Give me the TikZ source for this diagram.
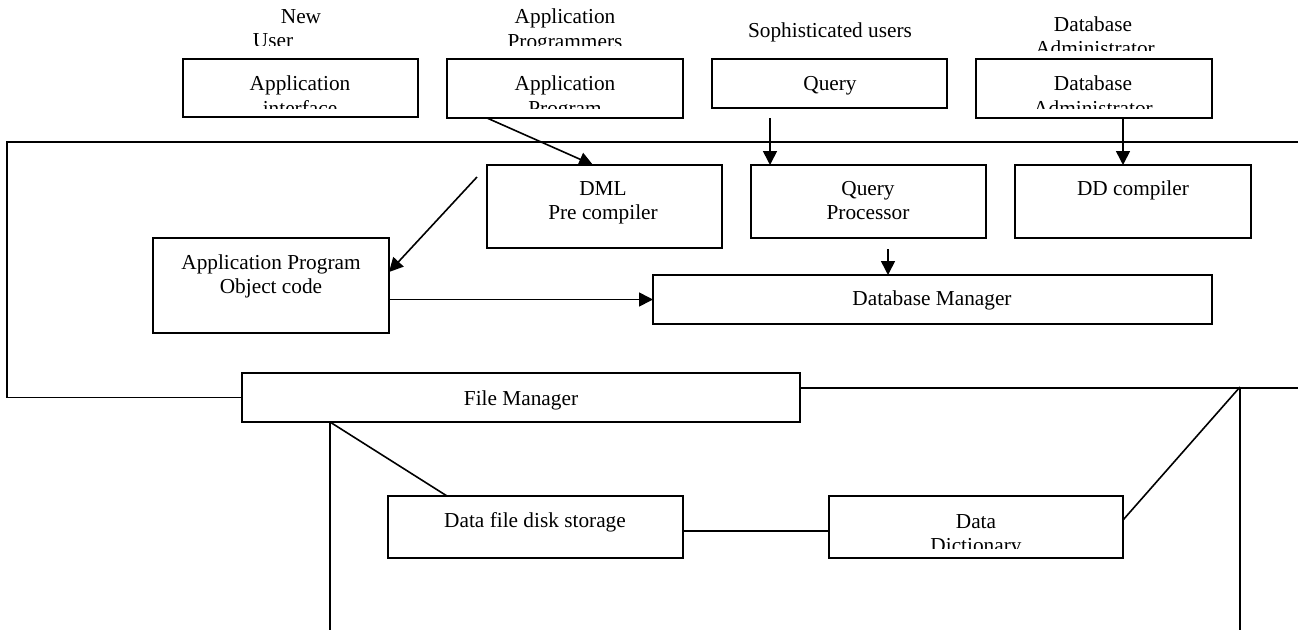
\documentclass[tikz,border=0pt]{standalone}
\usepackage{fontspec}
\setmainfont{Liberation Serif}
\usetikzlibrary{arrows.meta,calc}
\begin{document}
\begin{tikzpicture}[x=1pt,y=-1pt,
  lw/.style={line width=1.6pt},
  box/.style={draw, lw, anchor=north west, inner sep=0pt, outer sep=0pt},
  txt/.style={inner sep=0pt, anchor=base, font=\fontsize{21.3}{25}\selectfont},
  link/.style={lw},
  arr/.style={lw, -{Triangle[length=14pt,width=14pt]}}]
\useasboundingbox (0,0) rectangle (1298,630);

% ---------- user labels ----------
\node[txt] (t-new) at (301,23) {New};
\node[txt] (t-appl) at (565,23) {Application};
\node[txt] (t-soph) at (830,37) {Sophisticated users};
\node[txt] (t-db) at (1093,31) {Database};
\begin{scope}
  \clip (0,0) rectangle (1298,45);
  \node[txt] (t-user) at (273,47) {User};
  \node[txt] (t-progr) at (565,48) {Programmers};
\end{scope}
\begin{scope}
  \clip (900,0) rectangle (1298,50);
  \node[txt] (t-admin) at (1095,55) {Administrator};
\end{scope}

% ---------- top row ----------
\node[box, minimum width=235pt, minimum height=58pt] (ai)  at (183,59) {};
\node[box, minimum width=236pt, minimum height=59pt] (ap)  at (447,59) {};
\node[box, minimum width=235pt, minimum height=49pt] (qry) at (712,59) {};
\node[box, minimum width=236pt, minimum height=59pt] (dba) at (976,59) {};

\node[txt] (ai-1)  at (300,90)  {Application};
\node[txt] (ap-1)  at (565,90)  {Application};
\node[txt] (qry-1) at (830,90)  {Query};
\node[txt] (dba-1) at (1093,90) {Database};
\begin{scope}
  \clip (0,0) rectangle (1298,108);
  \node[txt] (ai-2)  at (300,115)  {interface};
  \node[txt] (ap-2)  at (565,115)  {Program};
  \node[txt] (dba-2) at (1093,115) {Administrator};
\end{scope}

% ---------- system frame ----------
\node[box, minimum width=235pt, minimum height=83pt] (dml) at (487,165) {};
\node[box, minimum width=235pt, minimum height=73pt] (qp)  at (751,165) {};
\node[box, minimum width=236pt, minimum height=73pt] (ddc) at (1015,165) {};
\node[box, minimum width=236pt, minimum height=95pt] (obj) at (153,238) {};
\node[box, minimum width=559pt, minimum height=49pt] (dbm) at (653,275) {};
\node[box, minimum width=558pt, minimum height=49pt] (fm)  at (242,373) {};

\node[txt] (dml-1) at (603,195)  {DML};
\node[txt] (dml-2) at (603,219)  {Pre compiler};
\node[txt] (qp-1)  at (868,195)  {Query};
\node[txt] (qp-2)  at (868,219)  {Processor};
\node[txt] (ddc-1) at (1133,195) {DD compiler};
\node[txt] (obj-1) at (271,269)  {Application Program};
\node[txt] (obj-2) at (271,293)  {Object code};
\node[txt] (dbm-1) at (932,305)  {Database Manager};
\node[txt] (fm-1)  at (521,405)  {File Manager};

% ---------- storage ----------
\node[box, minimum width=295pt, minimum height=62pt] (dfs) at (388,496) {};
\node[box, minimum width=294pt, minimum height=62pt] (dd)  at (829,496) {};
\node[txt] (dfs-1) at (535,527) {Data file disk storage};
\node[txt] (dd-1)  at (976,528) {Data};
\begin{scope}
  \clip (0,400) rectangle (1298,548);
  \node[txt] (dd-2) at (976,552) {Dictionary};
\end{scope}

% ---------- free ends ----------
\coordinate (frTL) at (7,142);
\coordinate (frTR) at (1298,142);
\coordinate (fmR)  at (1298,388);
\coordinate (jn)   at (1240,387);
\coordinate (jnB)  at (1240,630);
\coordinate (fmB)  at (330,630);
\coordinate (objS) at (477,177);

% ---------- connectors ----------
\draw[link] (fm.west) -| (frTL) -- (frTR);
\draw[link] ($(fm.north east)+(0,15)$) -- (fmR);
\draw[link] (jn) -- (jnB);
\draw[link] (jn) -- ($(dd.north east)+(0,24)$);
\draw[link] ($(fm.south west)+(88,0)$) -- (fmB);
\draw[link] ($(fm.south west)+(88,0)$) -- ($(dfs.north west)+(59,0)$);
\draw[link] ($(dfs.north east)+(0,35)$) -- ($(dd.north west)+(0,35)$);

\draw[arr] ($(ap.south west)+(40,0)$) -- ($(dml.north west)+(106,0)$);
\draw[arr] ($(qry.south west)+(58,10)$) -- ($(qp.north west)+(19,0)$);
\draw[arr] ($(dba.south west)+(147,0)$) -- ($(ddc.north west)+(108,0)$);
\draw[arr] (objS) -- ($(obj.north east)+(0,34)$);
\draw[arr] (dbm.west -| obj.east) -- (dbm.west);
\draw[arr] ($(qp.south west)+(137,11)$) -- ($(dbm.north west)+(235,0)$);
\end{tikzpicture}
\end{document}
